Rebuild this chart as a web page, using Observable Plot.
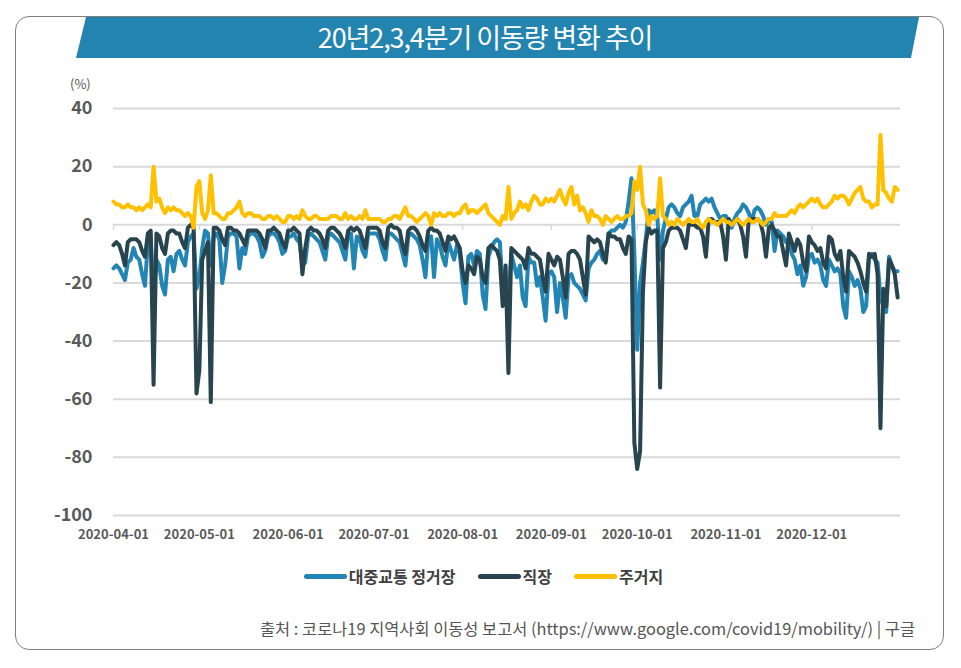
<!DOCTYPE html>
<html><head><meta charset="utf-8">
<script src="https://cdn.jsdelivr.net/npm/d3@7"></script>
<script src="https://cdn.jsdelivr.net/npm/@observablehq/plot@0.6"></script>
<style>
body{margin:0;background:#fff;font-family:"Noto Sans CJK KR","Noto Sans",sans-serif;}
#wrap{position:relative;width:961px;height:668px;overflow:hidden;background:#fff;}
#card{position:absolute;left:15px;top:16px;width:929px;height:634px;border:1.5px solid #7f7f7f;border-radius:14px;box-sizing:border-box;}
#banner{position:absolute;left:76px;top:17px;width:843px;height:41px;background:#2284af;clip-path:polygon(10px 0,100% 0,calc(100% - 8px) 100%,0 100%);}
#title{position:absolute;left:0;top:17px;width:970px;height:41px;line-height:40px;text-align:center;color:#fff;font-size:27px;letter-spacing:-1.1px;}
#unit{position:absolute;left:70px;top:74px;font-size:13px;color:#555;}
#chart{position:absolute;left:0;top:70px;}
#legend{position:absolute;left:0;top:564px;width:967px;display:flex;justify-content:center;align-items:center;font-size:16px;font-weight:700;color:#404040;}
.sw{display:inline-block;width:43px;height:5px;border-radius:3px;}
.lab{margin-left:2px;margin-right:22px;}
.lab:last-child{margin-right:0;}
#source{position:absolute;right:46px;top:616px;font-size:16.4px;color:#555;white-space:nowrap;}
</style></head>
<body>
<div id="wrap">
  <div id="card"></div>
  <div id="banner"></div>
  <div id="title"></div>
  <div id="unit">(%)</div>
  <div id="chart"></div>
  <div id="legend"></div>
  <div id="source"></div>
</div>
<script>
const titleText = "20년2,3,4분기 이동량 변화 추이";
const sourceText = "출처 : 코로나19 지역사회 이동성 보고서 (https://www.google.com/covid19/mobility/) | 구글";
const seriesNames = ["대중교통 정거장", "직장", "주거지"];
const seriesColors = ["#2285b3", "#27444f", "#ffc000"];
const monthStarts = ["2020-04-01","2020-05-01","2020-06-01","2020-07-01","2020-08-01","2020-09-01","2020-10-01","2020-11-01","2020-12-01"];
const xTickLabels = monthStarts;
const yTicks = [40, 20, 0, -20, -40, -60, -80, -100];

// 대중교통 정거장 (transit stations), one array per month Apr..Dec
const transitByMonth = [
  [-15,-14,-15,-17,-19,-13,-12,-8,-11,-12,-17,-21,-6,-4,-25,-12,-14,-21,-24,-12,-11,-16,-10,-9,-12,-14,-6,-4,-3,-22],
  [-18,-8,-2,-3,-14,-4,-3,-5,-20,-14,-4,-3,-3,-4,-15,-8,-10,-4,-3,-3,-4,-6,-11,-9,-4,-3,-3,-4,-6,-10,-9],
  [-4,-4,-3,-5,-6,-14,-13,-4,-3,-4,-5,-6,-9,-12,-4,-3,-4,-5,-6,-9,-12,-3,-3,-15,-4,-5,-9,-11,-3,-3],
  [-3,-3,-5,-9,-12,-3,-3,-4,-5,-6,-10,-14,-4,-3,-4,-5,-7,-12,-18,-5,-4,-18,-5,-7,-11,-14,-6,-9,-12,-7,-10],
  [-20,-27,-11,-10,-14,-9,-10,-24,-29,-11,-8,-6,-5,-6,-22,-20,-24,-10,-14,-18,-14,-25,-28,-11,-13,-13,-21,-18,-25,-33,-17],
  [-16,-18,-30,-20,-25,-32,-18,-17,-20,-21,-22,-24,-26,-15,-13,-12,-10,-9,-12,-11,-3,-2,-2,-1,0,-1,1,8,16,-10],
  [-43,-20,-13,-5,5,4,5,3,-12,-2,2,6,7,6,4,3,6,7,8,10,3,3,7,8,9,8,9,6,4,2,3],
  [3,1,-1,2,4,5,7,6,4,1,5,6,5,3,0,2,1,-9,-2,-3,-4,-6,-5,-10,-12,-17,-14,-21,-18,-11],
  [-10,-13,-12,-14,-19,-21,-12,-14,-16,-15,-17,-28,-32,-16,-18,-21,-19,-22,-30,-28,-11,-10,-12,-13,-25,-28,-30,-11,-14,-16,-16]
];
// 직장 (workplaces)
const workplaceByMonth = [
  [-7,-6,-7,-10,-14,-6,-5,-5,-5,-6,-9,-11,-3,-2,-55,-3,-4,-8,-10,-3,-2,-2,-3,-3,-6,-8,-1,0,-1,-58],
  [-50,-12,-9,-6,-61,-1,-1,-2,-5,-7,-1,-1,-2,-2,-3,-5,-7,-2,-2,-2,-2,-3,-5,-8,-2,-2,-1,-2,-3,-6,-8],
  [-2,-2,-1,-2,-3,-17,-8,-2,-1,-2,-2,-3,-5,-8,-2,-1,-1,-2,-3,-5,-8,-2,-1,-2,-1,-2,-5,-8,-1,-1],
  [-1,-1,-2,-6,-8,-1,0,-1,-1,-2,-7,-10,-2,-1,-1,-2,-4,-7,-9,-2,-1,-2,-2,-3,-6,-9,-4,-5,-4,-6,-8],
  [-16,-20,-14,-15,-17,-11,-12,-18,-20,-8,-7,-8,-9,-12,-28,-14,-51,-8,-9,-10,-11,-12,-15,-8,-10,-10,-11,-12,-18,-23,-10],
  [-12,-14,-11,-12,-18,-25,-10,-9,-9,-10,-12,-18,-24,-4,-5,-6,-5,-6,-10,-13,-3,-4,-4,-5,-5,-8,-10,-4,-5,-75],
  [-84,-78,-23,-6,-1,-3,-2,-2,-56,-8,-6,-2,-1,-1,-1,-2,-5,-8,0,0,0,-1,-1,-4,-11,2,2,1,1,1,-4],
  [-12,2,0,1,2,0,-4,-11,2,2,2,2,1,-3,-11,-1,0,-2,-4,-4,-9,-14,-3,-6,-9,-5,-7,-13,-16,-4],
  [-6,-7,-9,-8,-13,-15,-4,-5,-10,-12,-9,-18,-23,-9,-10,-11,-13,-16,-20,-23,-10,-11,-10,-17,-70,-22,-28,-12,-14,-17,-25]
];
// 주거지 (residential)
const residentialByMonth = [
  [8,7,7,6,6,7,6,6,5,6,5,6,7,6,20,8,9,6,4,6,5,6,5,5,4,3,4,3,-1,13],
  [15,4,2,5,17,4,4,3,2,2,4,4,5,6,8,4,3,4,4,3,3,3,2,2,3,3,2,3,2,1,1],
  [3,3,2,3,2,5,3,2,2,3,3,2,2,2,2,3,3,3,2,2,4,2,3,2,2,3,2,5,2,2],
  [2,2,2,1,1,2,2,3,3,2,4,6,3,3,2,1,2,3,4,3,0,4,3,4,3,3,4,4,3,4,4],
  [6,7,4,5,5,4,5,6,7,4,3,2,1,0,3,2,13,2,4,5,8,6,7,5,8,10,9,7,7,9,8],
  [9,8,10,12,9,7,11,13,7,10,5,6,4,1,5,3,3,2,0,3,2,1,2,3,2,2,3,3,4,15],
  [12,20,7,5,0,3,2,3,16,3,2,0,1,0,2,1,0,1,2,1,1,2,0,-1,1,2,1,1,0,1,2],
  [1,1,0,1,2,1,0,1,2,1,1,2,1,0,1,2,2,4,3,3,3,3,4,5,4,6,7,6,7,8],
  [9,8,9,7,6,6,7,8,10,9,10,10,9,7,9,11,12,13,9,8,8,6,7,7,31,12,11,9,8,13,12]
];

function toRows(byMonth, name) {
  const rows = [];
  byMonth.forEach((vals, m) => {
    const start = new Date(monthStarts[m]);
    vals.forEach((v, i) => rows.push({date: d3.utcDay.offset(start, i), value: v, series: name}));
  });
  return rows;
}
const transit = toRows(transitByMonth, seriesNames[0]);
const workplace = toRows(workplaceByMonth, seriesNames[1]);
const residential = toRows(residentialByMonth, seriesNames[2]);

document.getElementById("title").textContent = titleText;
document.getElementById("source").textContent = sourceText;

const xTicks = xTickLabels.map(s => new Date(s));
const font = '"Noto Sans CJK KR","Noto Sans",sans-serif';

const chart = Plot.plot({
  width: 961,
  height: 475,
  marginLeft: 113,
  marginRight: 61,
  marginTop: 38,
  marginBottom: 30,
  style: {fontFamily: font, color: "#595959", background: "transparent", overflow: "visible"},
  x: {type: "utc", domain: [new Date("2020-04-01"), new Date("2021-01-01")]},
  y: {domain: [-100, 40]},
  marks: [
    Plot.ruleY(yTicks, {stroke: "#d9d9d9", strokeWidth: 2}),
    Plot.ruleX(xTicks, {y1: 0, y2: -2, stroke: "#d9d9d9", strokeWidth: 1.5}),
    Plot.axisY(yTicks, {tickSize: 0, tickPadding: 21, fontSize: 18, fontWeight: 600, label: null, tickFormat: d => String(d)}),
    Plot.axisX(xTicks, {tickSize: 0, tickPadding: 14, fontSize: 13, fontWeight: 600, label: null, tickFormat: d3.utcFormat("%Y-%m-%d")}),
    Plot.line(transit, {x: "date", y: "value", stroke: seriesColors[0], strokeWidth: 4, strokeLinejoin: "round"}),
    Plot.line(workplace, {x: "date", y: "value", stroke: seriesColors[1], strokeWidth: 4, strokeLinejoin: "round"}),
    Plot.line(residential, {x: "date", y: "value", stroke: seriesColors[2], strokeWidth: 4, strokeLinejoin: "round"})
  ]
});
document.getElementById("chart").appendChild(chart);

const legend = document.getElementById("legend");
seriesNames.forEach((n, i) => {
  const sw = document.createElement("span");
  sw.className = "sw";
  sw.style.background = seriesColors[i];
  const lab = document.createElement("span");
  lab.className = "lab";
  lab.textContent = n;
  legend.appendChild(sw);
  legend.appendChild(lab);
});
</script>
</body></html>
